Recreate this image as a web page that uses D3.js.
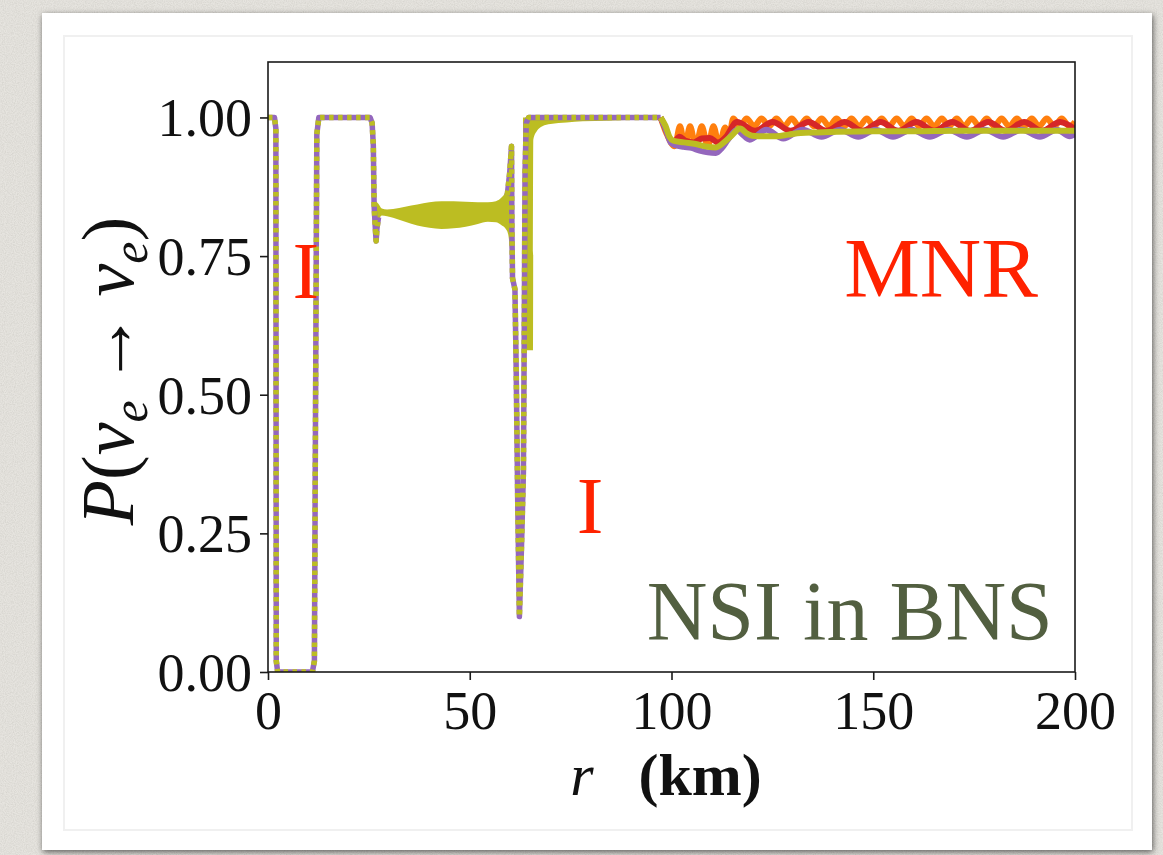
<!DOCTYPE html>
<html><head><meta charset="utf-8">
<script src="https://cdn.jsdelivr.net/npm/d3@7"></script>
<style>html,body{margin:0;padding:0;background:#e5e3dd;} svg{display:block}</style>
</head><body>
<svg id="chart" width="1163" height="855"></svg>
<script>
// ---------- data ----------
const xTicks = [0, 50, 100, 150, 200];
const yTicks = [0, 0.25, 0.5, 0.75, 1.0];

// shared curve (all series overlap here), null = break
const commonR = [0, 1.6, 1.95, 2.0, 2.05, 2.4, 11.0, 11.5, 11.8, 12.1, 12.6, 25.3, 25.8, 26.1, 26.3, 26.6, 26.8, 27.0, 27.4,
                 27.5,
                 59.3, 59.9, 60.35, 60.45, 60.6, 61.2, 61.5, 61.9, 62.3, 62.8, 63.3, 63.5, 63.7, 64.0, 64.6, 97.3];
const commonP = [1, 1, 0.98, 0.5, 0.02, 0, 0, 0.02, 0.5, 0.97, 1, 1, 0.99, 0.95, 0.84, 0.80, 0.777, 0.80, 0.82,
                 null,
                 0.86, 0.90, 0.948, 0.80, 0.71, 0.69, 0.55, 0.30, 0.10, 0.22, 0.36, 0.60, 0.90, 0.99, 1.0, 1.0];

// fast-oscillation envelopes (filled)
const band1R  = [26.6, 27.3, 28.2, 29.5, 31, 34, 37, 40, 43, 46, 49, 52, 54.5, 56.5, 57.8, 58.8, 59.5, 60.1, 60.5];
const band1Hi = [0.85, 0.845, 0.836, 0.834, 0.835, 0.839, 0.843, 0.847, 0.849, 0.849, 0.848, 0.847, 0.847, 0.849, 0.855, 0.865, 0.88, 0.92, 0.948];
const band1Lo = [0.79, 0.81, 0.823, 0.822, 0.819, 0.812, 0.805, 0.801, 0.799, 0.800, 0.803, 0.808, 0.812, 0.811, 0.806, 0.800, 0.79, 0.75, 0.71];

const band2R  = [63.2, 65.7, 65.75, 66.6, 68, 70, 74, 78, 84, 90.5];
const band2Hi = [1.0, 1.0, 1.0, 1.0, 1.0, 1.0, 1.0, 1.0, 1.0, 1.0];
const band2Lo = [0.58, 0.58, 0.96, 0.975, 0.984, 0.988, 0.991, 0.993, 0.994, 0.996];

// tails beyond ~97 km
const oliveR = [97.3, 98.5, 99.5, 100.5, 103, 106, 109, 111, 113, 115, 117, 118.5, 120, 123, 126, 129, 132, 136, 141, 150, 160, 170, 180, 190, 200];
const oliveP = [1.0, 0.985, 0.965, 0.958, 0.955, 0.952, 0.947, 0.946, 0.955, 0.968, 0.98, 0.972, 0.967, 0.966, 0.966, 0.969, 0.972, 0.973, 0.974, 0.975, 0.975, 0.976, 0.976, 0.976, 0.976];

const purpleR = [97.3, 98.5, 99.8, 101, 103, 105, 107, 109, 111, 112.5, 114, 116.2, 117.5, 119.4, 123.5, 127.7, 132.5, 137.2, 141.8, 146.3, 150.6, 154.9, 159.5, 164.0, 168.6, 173.2, 177.7, 182.2, 186.8, 191.3, 195.5, 198.7, 200];
const purpleP = [1.0, 0.98, 0.955, 0.95, 0.947, 0.945, 0.94, 0.937, 0.936, 0.945, 0.96, 0.978, 0.97, 0.96, 0.978, 0.962, 0.978, 0.965, 0.978, 0.965, 0.978, 0.965, 0.978, 0.965, 0.978, 0.965, 0.978, 0.965, 0.978, 0.965, 0.978, 0.966, 0.97];

const redR = [97.3, 98.5, 99.5, 100.5, 102, 103.5, 105.5, 107.5, 109.5, 111.5, 113.5, 116.2, 120.7, 125.1, 129.5, 134.0, 138.4, 142.9, 147.3, 151.8, 156.2, 160.7, 165.1, 169.6, 174.0, 178.5, 182.9, 187.4, 191.8, 196.3, 200];
const redP = [1.0, 0.98, 0.962, 0.955, 0.965, 0.958, 0.955, 0.962, 0.963, 0.955, 0.965, 0.992, 0.976, 0.992, 0.976, 0.992, 0.976, 0.992, 0.976, 0.992, 0.976, 0.992, 0.976, 0.992, 0.976, 0.992, 0.976, 0.992, 0.976, 0.992, 0.979];

const orangeR = [97.3, 98.7, 100.8, 102.1, 103.3, 104.6, 106.0, 107.5, 109.0, 110.4, 111.8, 113.3, 114.3, 115.3, 117.0,
                 118.6, 120.5, 122.3, 124.2, 126.0, 127.9, 129.8, 131.6, 133.5, 135.3, 137.2, 139.1, 140.9, 142.8, 144.6, 146.5,
                 148.4, 150.2, 152.1, 153.9, 155.8, 157.7, 159.5, 161.4, 163.2, 165.1, 167.0, 168.8, 170.7, 172.5, 174.4, 176.3,
                 178.1, 180.0, 181.8, 183.7, 185.6, 187.4, 189.3, 191.1, 193.0, 194.9, 196.7, 198.6, 200];
const orangeP = [1.0, 0.972, 0.948, 0.984, 0.948, 0.984, 0.948, 0.984, 0.948, 0.984, 0.950, 0.982, 0.968, 0.998, 0.984,
                 0.998, 0.984, 0.998, 0.984, 0.998, 0.984, 0.998, 0.984, 0.998, 0.984, 0.998, 0.984, 0.998, 0.984, 0.998, 0.984,
                 0.998, 0.984, 0.998, 0.984, 0.998, 0.984, 0.998, 0.984, 0.998, 0.984, 0.998, 0.984, 0.998, 0.984, 0.998, 0.984,
                 0.998, 0.984, 0.998, 0.984, 0.998, 0.984, 0.998, 0.984, 0.998, 0.984, 0.998, 0.984, 0.992];

const annotations = [
  {text: "I", r: 9.4, p: 0.675, color: "#ff2200", anchor: "middle", size: 80},
  {text: "I", r: 79.8, p: 0.251, color: "#ff2200", anchor: "middle", size: 80},
  {text: "MNR", r: 190.8, p: 0.677, color: "#ff2200", anchor: "end", size: 85},
  {text: "NSI in BNS", r: 194.5, p: 0.057, color: "#525f40", anchor: "end", size: 84}
];

const colors = {purple: "#9467bd", olive: "#bcbd22", red: "#d62728", orange: "#ff7f0e"};

// ---------- drawing ----------
const W = 1163, H = 855;
const plot = {left: 268, right: 1075, top: 62, bottom: 672};
const svg = d3.select("#chart");
const defs = svg.append("defs");

const noise = defs.append("filter").attr("id", "noise").attr("x", 0).attr("y", 0).attr("width", "100%").attr("height", "100%");
noise.append("feTurbulence").attr("type", "fractalNoise").attr("baseFrequency", 0.9).attr("numOctaves", 2).attr("result", "t");
noise.append("feColorMatrix").attr("type", "matrix")
  .attr("values", "0 0 0 0 0.45  0 0 0 0 0.44  0 0 0 0 0.40  0 0 0 -1.1 0.75");

const shadow = defs.append("filter").attr("id", "shadow").attr("x", "-5%").attr("y", "-5%").attr("width", "110%").attr("height", "110%");
shadow.append("feDropShadow").attr("dx", 1).attr("dy", 2).attr("stdDeviation", 3).attr("flood-color", "#000").attr("flood-opacity", 0.6);

defs.append("clipPath").attr("id", "clip").append("rect")
  .attr("x", plot.left).attr("y", plot.top).attr("width", plot.right - plot.left).attr("height", plot.bottom - plot.top);

svg.append("rect").attr("width", W).attr("height", H).attr("fill", "#e6e4df");
svg.append("rect").attr("width", W).attr("height", H).attr("filter", "url(#noise)").attr("opacity", 0.5);

svg.append("rect").attr("x", 42).attr("y", 13).attr("width", 1110).attr("height", 837)
  .attr("fill", "#ffffff").attr("filter", "url(#shadow)");
svg.append("rect").attr("x", 64).attr("y", 36).attr("width", 1068).attr("height", 794)
  .attr("fill", "none").attr("stroke", "#f0f0f0").attr("stroke-width", 2);

const x = d3.scaleLinear().domain([0, 200]).range([plot.left, plot.right]);
const y = d3.scaleLinear().domain([0, 1.1]).range([plot.bottom, plot.top]);

const zip = (R, P) => R.map((r, i) => ({r, p: P[i]}));

const g = svg.append("g").attr("clip-path", "url(#clip)");

const area = d3.area().x(d => x(d.r)).y0(d => y(d.lo)).y1(d => y(d.hi)).curve(d3.curveMonotoneX);
const band = (R, Lo, Hi) => R.map((r, i) => ({r, lo: Lo[i], hi: Hi[i]}));
g.append("path").datum(band(band1R, band1Lo, band1Hi)).attr("d", area).attr("fill", colors.olive);
g.append("path").datum(band(band2R, band2Lo, band2Hi)).attr("d", area).attr("fill", colors.olive);

const lineLin = d3.line().defined(d => d.p !== null).x(d => x(d.r)).y(d => y(d.p));
const lineSmooth = d3.line().x(d => x(d.r)).y(d => y(d.p)).curve(d3.curveMonotoneX);

const common = zip(commonR, commonP);
g.append("path").datum(common).attr("d", lineLin).attr("fill", "none")
  .attr("stroke", colors.purple).attr("stroke-width", 5.5).attr("stroke-linejoin", "round");
g.append("path").datum(common).attr("d", lineLin).attr("fill", "none")
  .attr("stroke", colors.olive).attr("stroke-width", 5.5).attr("stroke-linejoin", "round")
  .attr("stroke-dasharray", "4.5,4.5");

const tails = [
  {R: orangeR, P: orangeP, c: colors.orange},
  {R: redR, P: redP, c: colors.red},
  {R: purpleR, P: purpleP, c: colors.purple},
  {R: oliveR, P: oliveP, c: colors.olive}
];
tails.forEach(t => {
  g.append("path").datum(zip(t.R, t.P)).attr("d", lineSmooth).attr("fill", "none")
    .attr("stroke", t.c).attr("stroke-width", 6).attr("stroke-linejoin", "round");
});

// frame
svg.append("rect").attr("x", plot.left).attr("y", plot.top)
  .attr("width", plot.right - plot.left).attr("height", plot.bottom - plot.top)
  .attr("fill", "none").attr("stroke", "#1a1a1a").attr("stroke-width", 1.6);

const tickFont = "'Liberation Serif', 'Times New Roman', serif";
const xAxis = d3.axisBottom(x).tickValues(xTicks).tickFormat(d3.format("d")).tickSize(8).tickPadding(10);
const yAxis = d3.axisLeft(y).tickValues(yTicks).tickFormat(d3.format(".2f")).tickSize(8).tickPadding(8);

const gx = svg.append("g").attr("transform", `translate(0,${plot.bottom})`).call(xAxis);
const gy = svg.append("g").attr("transform", `translate(${plot.left},0)`).call(yAxis);
[gx, gy].forEach(a => {
  a.select(".domain").remove();
  a.selectAll(".tick line").attr("stroke", "#1a1a1a").attr("stroke-width", 1.6);
  a.selectAll(".tick text").attr("fill", "#111").style("font-family", tickFont).style("font-size", "54px");
});
gx.selectAll(".tick text").attr("dy", "0.72em");
gy.selectAll(".tick text").attr("dy", "0.34em");

// axis labels
const xl = svg.append("text").attr("x", 666).attr("y", 795)
  .attr("text-anchor", "middle").style("font-family", tickFont).style("font-size", "60px").attr("fill", "#111");
xl.append("tspan").text("r").style("font-style", "italic");
xl.append("tspan").text("\u2002 ");
xl.append("tspan").text("(km)").style("font-weight", "bold");

const yl = svg.append("text")
  .attr("transform", `translate(133,${(plot.top + plot.bottom) / 2 + 4}) rotate(-90)`)
  .attr("text-anchor", "middle").style("font-family", tickFont).style("font-size", "74px").attr("fill", "#111");
yl.append("tspan").text("P").style("font-style", "italic");
yl.append("tspan").text("(");
yl.append("tspan").text("ν").style("font-style", "italic");
yl.append("tspan").text("e").style("font-style", "italic").style("font-size", "50px").attr("dy", "0.28em");
yl.append("tspan").text("\u2009→\u2009").attr("dy", "-0.19em");
yl.append("tspan").text("ν").style("font-style", "italic");
yl.append("tspan").text("e").style("font-style", "italic").style("font-size", "50px").attr("dy", "0.28em");
yl.append("tspan").text(")").attr("dy", "-0.19em");

// annotations
annotations.forEach(a => {
  svg.append("text").attr("x", x(a.r)).attr("y", y(a.p)).attr("text-anchor", a.anchor)
    .style("font-family", tickFont).style("font-size", a.size + "px").attr("fill", a.color).text(a.text);
});
</script>
</body></html>
